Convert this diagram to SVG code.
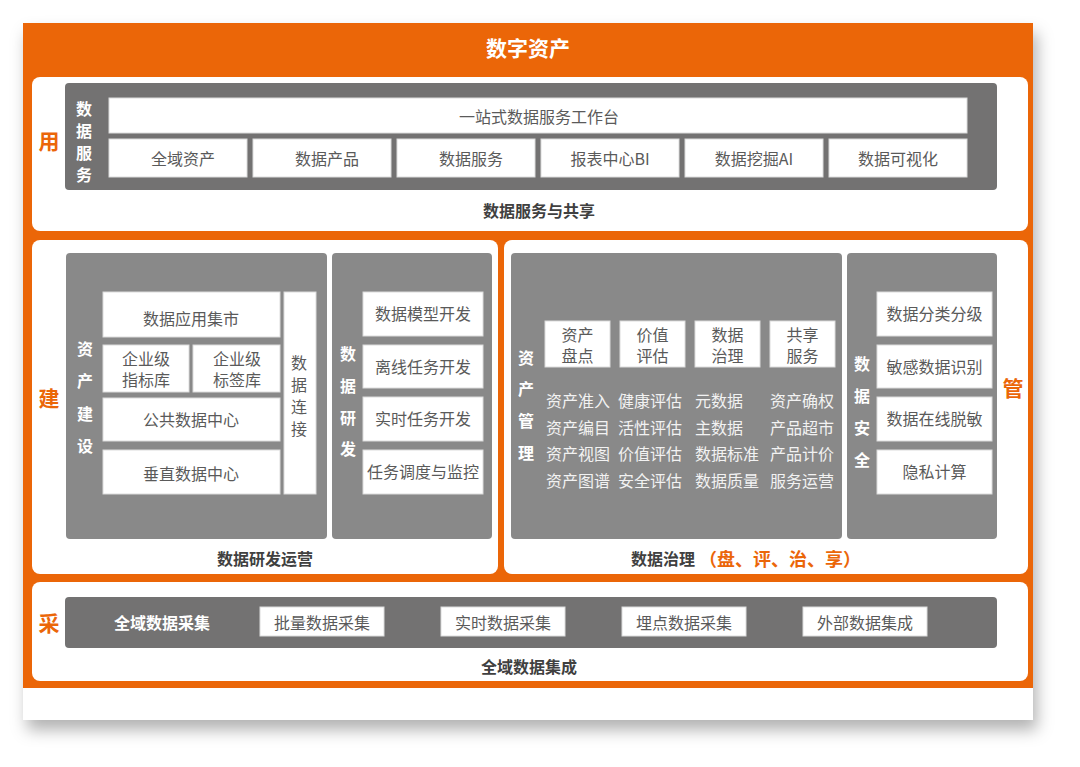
<svg xmlns="http://www.w3.org/2000/svg" width="1080" height="767" viewBox="0 0 1080 767">
<defs>
<filter id="sh" x="-5%" y="-5%" width="112%" height="115%">
<feDropShadow dx="4" dy="10" stdDeviation="8" flood-color="#000" flood-opacity="0.3"/>
</filter>
<style>
.t{font-family:"Noto Sans CJK SC","Noto Sans",sans-serif;dominant-baseline:central;text-anchor:middle}
.box{fill:#fff;stroke:#dcdcdc;stroke-width:1}
.bt{font-size:16px;fill:#5a5a5a}
.vt{font-size:16px;fill:#fff;font-weight:bold}
.it{font-size:16px;fill:#f2f2f2;text-anchor:start}
.lab{font-size:16px;fill:#404040;font-weight:bold}
.side{font-size:21px;fill:#eb6608;font-weight:bold}
.sec{fill:#fff}
.g1{fill:#737272}
.g2{fill:#898989}
</style>
</defs>
<g id="card">
<rect x="23" y="23" width="1010" height="697" fill="#fff" filter="url(#sh)"/>
<rect x="23" y="23" width="1010" height="665" fill="#eb6608"/>
<text class="t" x="528" y="47" font-size="21" font-weight="bold" fill="#fff">数字资产</text>
</g>
<g id="sec-use">
<rect class="sec" x="32" y="77" width="996" height="154" rx="8"/>
<text class="t side" x="49" y="140">用</text>
<rect class="g1" x="65" y="83" width="932" height="107" rx="4"/>
<text class="t vt" x="84" y="108" font-size="15">数</text>
<text class="t vt" x="84" y="130" font-size="15">据</text>
<text class="t vt" x="84" y="152" font-size="15">服</text>
<text class="t vt" x="84" y="174" font-size="15">务</text>
<g id="n-workbench"><rect class="box" x="109" y="98" width="858" height="35"/><text class="t bt" x="539" y="116">一站式数据服务工作台</text></g>
<g id="n-s1"><rect class="box" x="109" y="139" width="138" height="38"/><text class="t bt" x="183" y="158">全域资产</text></g>
<g id="n-s2"><rect class="box" x="253" y="139" width="138" height="38"/><text class="t bt" x="327" y="158">数据产品</text></g>
<g id="n-s3"><rect class="box" x="397" y="139" width="138" height="38"/><text class="t bt" x="471" y="158">数据服务</text></g>
<g id="n-s4"><rect class="box" x="541" y="139" width="138" height="38"/><text class="t bt" x="610" y="158">报表中心BI</text></g>
<g id="n-s5"><rect class="box" x="685" y="139" width="138" height="38"/><text class="t bt" x="754" y="158">数据挖掘AI</text></g>
<g id="n-s6"><rect class="box" x="829" y="139" width="138" height="38"/><text class="t bt" x="898" y="158">数据可视化</text></g>
<text class="t lab" x="539" y="210">数据服务与共享</text>
</g>
<g id="sec-build">
<rect class="sec" x="32" y="240" width="466" height="334" rx="8"/>
<text class="t side" x="49" y="397">建</text>
<rect class="g2" x="66" y="253" width="261" height="286" rx="4"/>
<text class="t vt" x="85" y="348">资</text>
<text class="t vt" x="85" y="380">产</text>
<text class="t vt" x="85" y="413">建</text>
<text class="t vt" x="85" y="445">设</text>
<g id="n-b1"><rect class="box" x="103" y="292" width="177" height="45"/><text class="t bt" x="191" y="318">数据应用集市</text></g>
<g id="n-b2"><rect class="box" x="103" y="345" width="86" height="47"/><text class="t bt" x="146" y="357.500">企业级<tspan x="146" dy="21">指标库</tspan></text></g>
<g id="n-b3"><rect class="box" x="193" y="345" width="87" height="47"/><text class="t bt" x="237" y="357.500">企业级<tspan x="237" dy="21">标签库</tspan></text></g>
<g id="n-b4"><rect class="box" x="103" y="398" width="177" height="43"/><text class="t bt" x="191" y="419">公共数据中心</text></g>
<g id="n-b5"><rect class="box" x="103" y="450" width="177" height="44"/><text class="t bt" x="191" y="473">垂直数据中心</text></g>
<g id="n-b6"><rect class="box" x="284" y="292" width="32" height="202"/>
<text class="t bt" x="299" y="362">数</text><text class="t bt" x="299" y="384">据</text><text class="t bt" x="299" y="406">连</text><text class="t bt" x="299" y="428">接</text></g>
<rect class="g2" x="332" y="253" width="160" height="286" rx="4"/>
<text class="t vt" x="348" y="353">数</text>
<text class="t vt" x="348" y="385">据</text>
<text class="t vt" x="348" y="417">研</text>
<text class="t vt" x="348" y="448">发</text>
<g id="n-d1"><rect class="box" x="363" y="292" width="120" height="44"/><text class="t bt" x="423" y="313">数据模型开发</text></g>
<g id="n-d2"><rect class="box" x="363" y="345" width="120" height="43"/><text class="t bt" x="423" y="366">离线任务开发</text></g>
<g id="n-d3"><rect class="box" x="363" y="397" width="120" height="44"/><text class="t bt" x="423" y="418">实时任务开发</text></g>
<g id="n-d4"><rect class="box" x="363" y="450" width="120" height="44"/><text class="t bt" x="423" y="471">任务调度与监控</text></g>
<text class="t lab" x="265" y="558">数据研发运营</text>
</g>
<g id="sec-manage">
<rect class="sec" x="504" y="240" width="524" height="334" rx="8"/>
<text class="t side" x="1013" y="387">管</text>
<rect class="g2" x="511" y="253" width="331" height="286" rx="4"/>
<text class="t vt" x="526" y="357">资</text>
<text class="t vt" x="526" y="388">产</text>
<text class="t vt" x="526" y="420">管</text>
<text class="t vt" x="526" y="452">理</text>
<g id="n-m1"><rect class="box" x="545" y="321" width="65" height="46"/><text class="t bt" x="577.500" y="333.500">资产<tspan x="577.500" dy="21">盘点</tspan></text></g>
<g id="n-m2"><rect class="box" x="620" y="321" width="65" height="46"/><text class="t bt" x="652.500" y="333.500">价值<tspan x="652.500" dy="21">评估</tspan></text></g>
<g id="n-m3"><rect class="box" x="695" y="321" width="65" height="46"/><text class="t bt" x="727.500" y="333.500">数据<tspan x="727.500" dy="21">治理</tspan></text></g>
<g id="n-m4"><rect class="box" x="770" y="321" width="65" height="46"/><text class="t bt" x="802.500" y="333.500">共享<tspan x="802.500" dy="21">服务</tspan></text></g>
<g id="items">
<text class="t it" x="546" y="400">资产准入</text><text class="t it" x="618" y="400">健康评估</text><text class="t it" x="695" y="400">元数据</text><text class="t it" x="770" y="400">资产确权</text>
<text class="t it" x="546" y="427">资产编目</text><text class="t it" x="618" y="427">活性评估</text><text class="t it" x="695" y="427">主数据</text><text class="t it" x="770" y="427">产品超市</text>
<text class="t it" x="546" y="453">资产视图</text><text class="t it" x="618" y="453">价值评估</text><text class="t it" x="695" y="453">数据标准</text><text class="t it" x="770" y="453">产品计价</text>
<text class="t it" x="546" y="480">资产图谱</text><text class="t it" x="618" y="480">安全评估</text><text class="t it" x="695" y="480">数据质量</text><text class="t it" x="770" y="480">服务运营</text>
</g>
<rect class="g2" x="847" y="253" width="150" height="286" rx="4"/>
<text class="t vt" x="862" y="363">数</text>
<text class="t vt" x="862" y="395">据</text>
<text class="t vt" x="862" y="427">安</text>
<text class="t vt" x="862" y="459">全</text>
<g id="n-x1"><rect class="box" x="877" y="292" width="115" height="44"/><text class="t bt" x="934.500" y="313">数据分类分级</text></g>
<g id="n-x2"><rect class="box" x="877" y="345" width="115" height="43"/><text class="t bt" x="934.500" y="366">敏感数据识别</text></g>
<g id="n-x3"><rect class="box" x="877" y="397" width="115" height="44"/><text class="t bt" x="934.500" y="418">数据在线脱敏</text></g>
<g id="n-x4"><rect class="box" x="877" y="450" width="115" height="44"/><text class="t bt" x="934.500" y="471">隐私计算</text></g>
<text class="t lab" x="663" y="558">数据治理</text>
<text class="t" x="780" y="558" font-size="18" font-weight="bold" fill="#eb6608">（盘、评、治、享）</text>
</g>
<g id="sec-collect">
<rect class="sec" x="32" y="582" width="996" height="99" rx="8"/>
<text class="t side" x="49" y="622">采</text>
<rect class="g1" x="65" y="597" width="932" height="51" rx="4"/>
<text class="t vt" x="162" y="622">全域数据采集</text>
<g id="n-c1"><rect class="box" x="260" y="607" width="124" height="29"/><text class="t bt" x="322" y="622">批量数据采集</text></g>
<g id="n-c2"><rect class="box" x="441" y="607" width="124" height="29"/><text class="t bt" x="503" y="622">实时数据采集</text></g>
<g id="n-c3"><rect class="box" x="622" y="607" width="124" height="29"/><text class="t bt" x="684" y="622">埋点数据采集</text></g>
<g id="n-c4"><rect class="box" x="803" y="607" width="124" height="29"/><text class="t bt" x="865" y="622">外部数据集成</text></g>
<text class="t lab" x="529" y="666">全域数据集成</text>
</g>
<g id="connectors"/>
</svg>
